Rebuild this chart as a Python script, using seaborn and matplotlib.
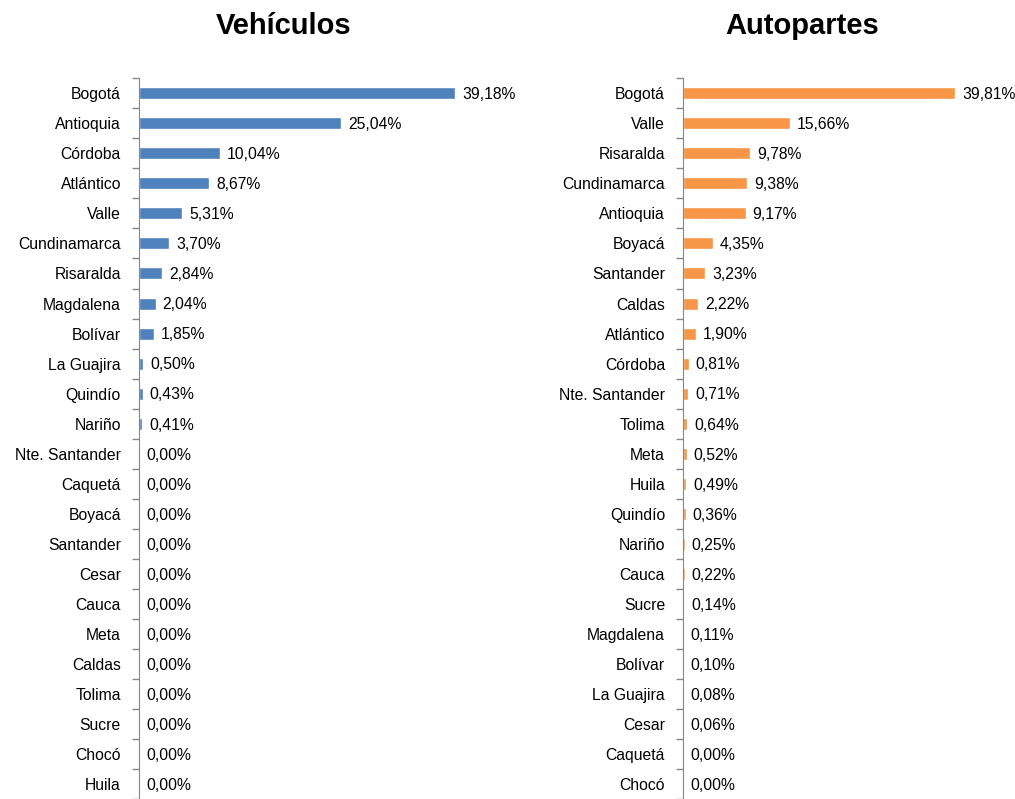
import pandas as pd
import seaborn as sns
import matplotlib.pyplot as plt
from matplotlib.ticker import FixedLocator

veh_regions = ['Bogotá', 'Antioquia', 'Córdoba', 'Atlántico', 'Valle', 'Cundinamarca',
               'Risaralda', 'Magdalena', 'Bolívar', 'La Guajira', 'Quindío', 'Nariño',
               'Nte. Santander', 'Caquetá', 'Boyacá', 'Santander', 'Cesar', 'Cauca',
               'Meta', 'Caldas', 'Tolima', 'Sucre', 'Chocó', 'Huila']
veh_values = [39.18, 25.04, 10.04, 8.67, 5.31, 3.70, 2.84, 2.04, 1.85, 0.50, 0.43, 0.41,
              0, 0, 0, 0, 0, 0, 0, 0, 0, 0, 0, 0]

auto_regions = ['Bogotá', 'Valle', 'Risaralda', 'Cundinamarca', 'Antioquia', 'Boyacá',
                'Santander', 'Caldas', 'Atlántico', 'Córdoba', 'Nte. Santander', 'Tolima',
                'Meta', 'Huila', 'Quindío', 'Nariño', 'Cauca', 'Sucre', 'Magdalena',
                'Bolívar', 'La Guajira', 'Cesar', 'Caquetá', 'Chocó']
auto_values = [39.81, 15.66, 9.78, 9.38, 9.17, 4.35, 3.23, 2.22, 1.90, 0.81, 0.71, 0.64,
               0.52, 0.49, 0.36, 0.25, 0.22, 0.14, 0.11, 0.10, 0.08, 0.06, 0.00, 0.00]

sns.set_style('white')
plt.rcParams['font.family'] = ['Liberation Sans Narrow', 'Liberation Sans', 'DejaVu Sans']

fig = plt.figure(figsize=(10.15, 7.99), dpi=100)
ax1 = fig.add_axes([0.137, 0.0, 0.358, 0.902])
ax2 = fig.add_axes([0.673, 0.0, 0.303, 0.902])


def draw_panel(ax, regions, values, color):
    df = pd.DataFrame({'Region': regions, 'Valor': values})
    sns.barplot(data=df, x='Valor', y='Region', ax=ax, color=color, width=0.4,
                saturation=1, orient='h')
    ax.set_xlim(0, 45)
    ax.set_ylim(len(regions) - 0.5, -0.5)
    for i, v in enumerate(values):
        ax.annotate(f'{v:.2f}%'.replace('.', ','), xy=(v, i), xytext=(5, -1),
                    textcoords='offset points', va='center', ha='left',
                    fontsize=11.3, color='black', annotation_clip=False)
    for s in ['top', 'right', 'bottom']:
        ax.spines[s].set_visible(False)
    ax.spines['left'].set_color('#868686')
    ax.set_xticks([])
    ax.set_xlabel('')
    ax.set_ylabel('')
    ax.tick_params(axis='y', which='major', left=False, length=0, labelsize=11.3,
                   labelcolor='black', pad=13)
    ax.yaxis.set_minor_locator(FixedLocator([i - 0.5 for i in range(len(regions) + 1)]))
    ax.tick_params(axis='y', which='minor', left=True, length=5, color='#868686', width=1)


draw_panel(ax1, veh_regions, veh_values, '#4F81BD')
draw_panel(ax2, auto_regions, auto_values, '#F79646')

fig.text(0.279, 0.968, 'Vehículos', ha='center', va='center', fontsize=21,
         fontweight='bold', color='black')
fig.text(0.79, 0.968, 'Autopartes', ha='center', va='center', fontsize=21,
         fontweight='bold', color='black')

fig.savefig('out.png', dpi=100)
